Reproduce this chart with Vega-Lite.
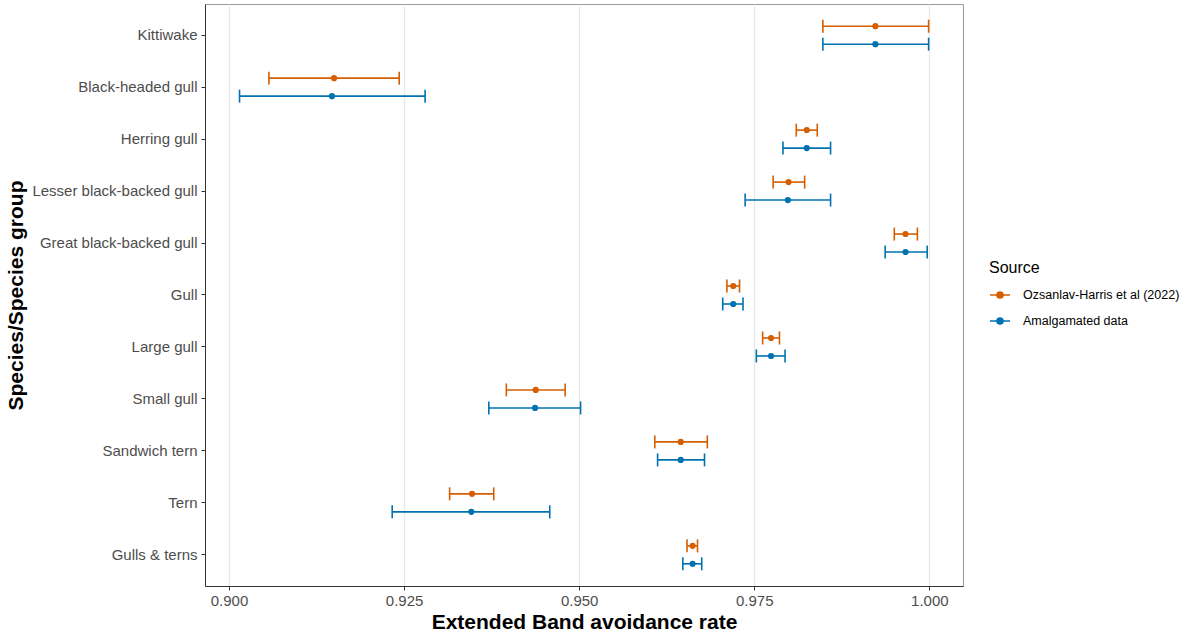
{
  "$schema": "https://vega.github.io/schema/vega-lite/v6.json",
  "width": 758,
  "height": 582,
  "autosize": {"type": "none"},
  "padding": {"left": 205, "top": 4, "right": 223, "bottom": 45},
  "background": "white",
  "config": {
    "font": "Liberation Sans",
    "view": {"stroke": "#9a9a9a", "strokeWidth": 1},
    "axis": {
      "labelColor": "#4d4d4d",
      "labelFontSize": 15,
      "tickColor": "#333333",
      "tickSize": 4,
      "domainColor": "#333333",
      "titleFontSize": 21,
      "titleFontWeight": "bold",
      "titleColor": "#000000"
    },
    "legend": {
      "titleFontSize": 16,
      "titleFontWeight": "normal",
      "titleColor": "#000000",
      "labelFontSize": 12.5,
      "labelColor": "#000000",
      "labelLimit": 300
    }
  },
  "data": {
    "values": [
      {"species": "Kittiwake", "source": "Ozsanlav-Harris et al (2022)", "lo": 0.9848, "est": 0.9923, "hi": 0.9999},
      {"species": "Kittiwake", "source": "Amalgamated data", "lo": 0.9848, "est": 0.9923, "hi": 0.9999},
      {"species": "Black-headed gull", "source": "Ozsanlav-Harris et al (2022)", "lo": 0.9057, "est": 0.9150, "hi": 0.9243},
      {"species": "Black-headed gull", "source": "Amalgamated data", "lo": 0.9015, "est": 0.9147, "hi": 0.9280},
      {"species": "Herring gull", "source": "Ozsanlav-Harris et al (2022)", "lo": 0.9810, "est": 0.9825, "hi": 0.9840},
      {"species": "Herring gull", "source": "Amalgamated data", "lo": 0.9791, "est": 0.9825, "hi": 0.9859},
      {"species": "Lesser black-backed gull", "source": "Ozsanlav-Harris et al (2022)", "lo": 0.9777, "est": 0.9799, "hi": 0.9822},
      {"species": "Lesser black-backed gull", "source": "Amalgamated data", "lo": 0.9737, "est": 0.9798, "hi": 0.9859},
      {"species": "Great black-backed gull", "source": "Ozsanlav-Harris et al (2022)", "lo": 0.9950, "est": 0.9966, "hi": 0.9983},
      {"species": "Great black-backed gull", "source": "Amalgamated data", "lo": 0.9937, "est": 0.9966, "hi": 0.9997},
      {"species": "Gull", "source": "Ozsanlav-Harris et al (2022)", "lo": 0.9711, "est": 0.9720, "hi": 0.9729},
      {"species": "Gull", "source": "Amalgamated data", "lo": 0.9705, "est": 0.9720, "hi": 0.9734},
      {"species": "Large gull", "source": "Ozsanlav-Harris et al (2022)", "lo": 0.9762, "est": 0.9774, "hi": 0.9786},
      {"species": "Large gull", "source": "Amalgamated data", "lo": 0.9753, "est": 0.9774, "hi": 0.9794},
      {"species": "Small gull", "source": "Ozsanlav-Harris et al (2022)", "lo": 0.9396, "est": 0.9438, "hi": 0.9480},
      {"species": "Small gull", "source": "Amalgamated data", "lo": 0.9371, "est": 0.9437, "hi": 0.9502},
      {"species": "Sandwich tern", "source": "Ozsanlav-Harris et al (2022)", "lo": 0.9608, "est": 0.9645, "hi": 0.9683},
      {"species": "Sandwich tern", "source": "Amalgamated data", "lo": 0.9612, "est": 0.9645, "hi": 0.9679},
      {"species": "Tern", "source": "Ozsanlav-Harris et al (2022)", "lo": 0.9315, "est": 0.9347, "hi": 0.9378},
      {"species": "Tern", "source": "Amalgamated data", "lo": 0.9233, "est": 0.9346, "hi": 0.9458},
      {"species": "Gulls & terns", "source": "Ozsanlav-Harris et al (2022)", "lo": 0.9654, "est": 0.9662, "hi": 0.9669},
      {"species": "Gulls & terns", "source": "Amalgamated data", "lo": 0.9648, "est": 0.9662, "hi": 0.9675}
    ]
  },
  "encoding": {
    "y": {
      "field": "species",
      "type": "nominal",
      "sort": ["Kittiwake", "Black-headed gull", "Herring gull", "Lesser black-backed gull", "Great black-backed gull", "Gull", "Large gull", "Small gull", "Sandwich tern", "Tern", "Gulls & terns"],
      "scale": {"paddingInner": 0, "paddingOuter": 0.1},
      "axis": {
        "title": "Species/Species group",
        "grid": false,
        "labelPadding": 4,
        "titleX": -183,
        "titleY": 291,
        "titleAlign": "center",
        "titleBaseline": "alphabetic",
        "titleAngle": 270
      }
    },
    "yOffset": {
      "field": "source",
      "type": "nominal",
      "sort": ["Ozsanlav-Harris et al (2022)", "Amalgamated data"],
      "scale": {"paddingInner": 0, "paddingOuter": 0.444}
    },
    "color": {
      "field": "source",
      "type": "nominal",
      "title": "Source",
      "sort": ["Ozsanlav-Harris et al (2022)", "Amalgamated data"],
      "scale": {"domain": ["Ozsanlav-Harris et al (2022)", "Amalgamated data"], "range": ["#D55E00", "#0072B2"]},
      "legend": {
        "orient": "none",
        "legendX": 784,
        "legendY": 256,
        "padding": 0,
        "titlePadding": 8,
        "symbolType": "M-1,0H1M-0.3,0a0.3,0.3 0 1,0 0.6,0a0.3,0.3 0 1,0 -0.6,0Z",
        "symbolSize": 400,
        "symbolStrokeWidth": 1.6,
        "symbolOpacity": 1,
        "rowPadding": 8,
        "labelOffset": 12,
        "labelLimit": 300
      }
    }
  },
  "layer": [
    {
      "mark": {"type": "rule", "strokeWidth": 1.6},
      "encoding": {
        "x": {
          "field": "lo",
          "type": "quantitative",
          "scale": {"domain": [0.89657, 1.00481], "nice": false, "zero": false},
          "axis": {
            "title": "Extended Band avoidance rate",
            "values": [0.9, 0.925, 0.95, 0.975, 1.0],
            "format": ".3f",
            "grid": true,
            "gridColor": "#e8e8e8",
            "gridWidth": 1.3,
            "labelPadding": 3,
            "titleX": 379,
            "titleY": 42,
            "titleAlign": "center",
            "titleBaseline": "alphabetic"
          }
        },
        "x2": {"field": "hi"}
      }
    },
    {
      "mark": {"type": "tick", "size": 13, "thickness": 1.6, "orient": "vertical", "opacity": 1},
      "encoding": {"x": {"field": "lo", "type": "quantitative", "title": "Extended Band avoidance rate"}}
    },
    {
      "mark": {"type": "tick", "size": 13, "thickness": 1.6, "orient": "vertical", "opacity": 1},
      "encoding": {"x": {"field": "hi", "type": "quantitative", "title": "Extended Band avoidance rate"}}
    },
    {
      "mark": {"type": "point", "filled": true, "size": 38, "opacity": 1},
      "encoding": {"x": {"field": "est", "type": "quantitative", "title": "Extended Band avoidance rate"}}
    }
  ]
}
